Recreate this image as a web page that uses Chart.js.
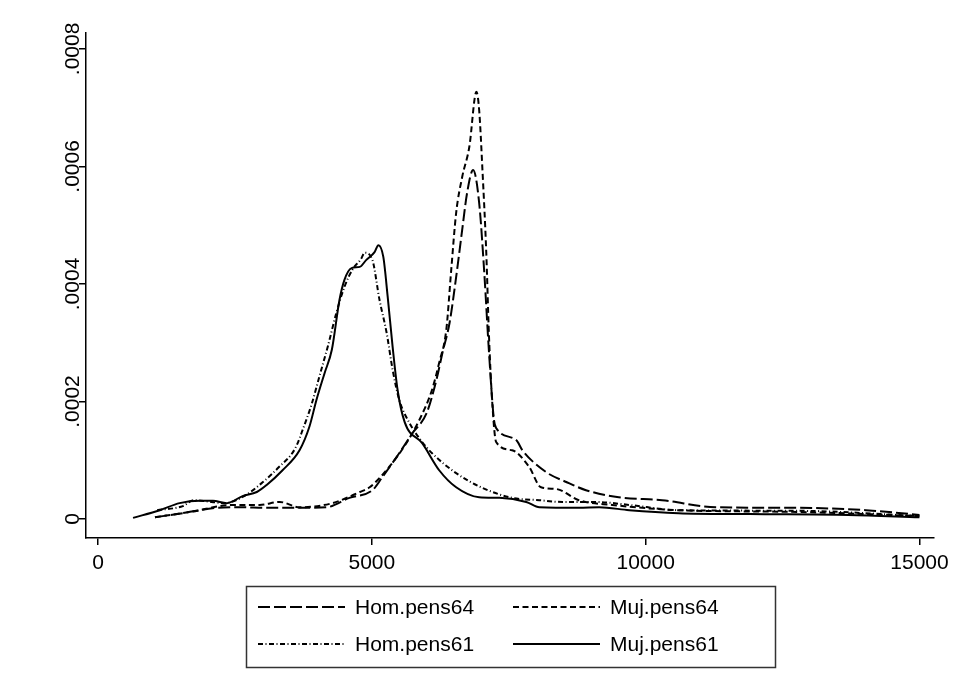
<!DOCTYPE html>
<html>
<head>
<meta charset="utf-8">
<script src="https://cdn.jsdelivr.net/npm/chart.js@4.4.1/dist/chart.umd.min.js"></script>
<style>
  html, body { margin: 0; padding: 0; background: #fff; }
  canvas { display: block; }
</style>
</head>
<body>
<canvas id="main" width="955" height="691"></canvas>
<script>
// kernel density curves, x = pension amount, y = density
const homPens64X = [1040, 1550, 2170, 2590, 3080, 3680, 4170, 4590, 5010, 5190, 5500, 5740, 6000, 6180, 6290, 6420, 6540, 6650, 6740, 6850, 6960, 7050, 7140, 7230, 7270, 7640, 7750, 8180, 8550, 8910, 9510, 10300, 11280, 12790, 14020, 15000];
const homPens64Y = [0.000003, 0.000010, 0.000019, 0.000020, 0.000019, 0.000019, 0.000020, 0.000036, 0.000049, 0.000071, 0.000112, 0.000146, 0.000180, 0.000237, 0.000283, 0.000334, 0.000412, 0.000492, 0.000555, 0.000594, 0.000538, 0.000424, 0.000283, 0.000169, 0.000155, 0.000134, 0.000117, 0.000080, 0.000063, 0.000049, 0.000037, 0.000032, 0.000020, 0.000019, 0.000015, 0.000007];

const mujPens64X = [1040, 1680, 2460, 2950, 3320, 3680, 4280, 4780, 4960, 5320, 5630, 5870, 6100, 6230, 6360, 6450, 6540, 6650, 6780, 6910, 6960, 7020, 7090, 7140, 7200, 7270, 7560, 7870, 8090, 8370, 8780, 9390, 10610, 12790, 15000];
const mujPens64Y = [0.000003, 0.000012, 0.000024, 0.000024, 0.000029, 0.000020, 0.000027, 0.000046, 0.000054, 0.000089, 0.000129, 0.000169, 0.000220, 0.000266, 0.000322, 0.000424, 0.000521, 0.000582, 0.000633, 0.000727, 0.000696, 0.000594, 0.000453, 0.000310, 0.000197, 0.000131, 0.000117, 0.000089, 0.000054, 0.000051, 0.000032, 0.000024, 0.000015, 0.000012, 0.000005];

const homPens61X = [1080, 1550, 1750, 2000, 2300, 2650, 3000, 3300, 3600, 3750, 3900, 4050, 4200, 4350, 4500, 4650, 4800, 4870, 5010, 5140, 5270, 5380, 5500, 5690, 5920, 6100, 6540, 7020, 7560, 8060, 8480, 9090, 9700, 10600, 12800, 15000];
const homPens61Y = [0.000015, 0.000022, 0.000032, 0.000030, 0.000027, 0.000038, 0.000062, 0.000088, 0.000120, 0.000155, 0.000195, 0.000245, 0.000295, 0.000350, 0.000395, 0.000425, 0.000442, 0.000453, 0.000441, 0.000373, 0.000317, 0.000254, 0.000203, 0.000163, 0.000131, 0.000112, 0.000078, 0.000053, 0.000036, 0.000032, 0.000029, 0.000029, 0.000024, 0.000015, 0.000014, 0.000005];

const mujPens61X = [640, 1130, 1490, 1860, 2100, 2350, 2640, 2900, 3080, 3370, 3680, 3860, 3990, 4140, 4270, 4410, 4500, 4630, 4780, 4900, 5050, 5120, 5210, 5290, 5380, 5470, 5600, 5920, 6230, 6540, 6960, 7330, 7820, 8060, 8780, 9150, 9700, 10600, 11900, 13700, 15000];
const mujPens61Y = [0.000002, 0.000015, 0.000027, 0.000031, 0.000031, 0.000027, 0.000039, 0.000046, 0.000058, 0.000083, 0.000117, 0.000157, 0.000203, 0.000249, 0.000288, 0.000373, 0.000407, 0.000427, 0.000429, 0.000441, 0.000454, 0.000466, 0.000446, 0.000378, 0.000293, 0.000220, 0.000165, 0.000129, 0.000083, 0.000054, 0.000037, 0.000036, 0.000029, 0.000020, 0.000019, 0.000020, 0.000015, 0.000010, 0.0000085, 0.000007, 0.000003];

const seriesNames = ['Hom.pens64', 'Muj.pens64', 'Hom.pens61', 'Muj.pens61'];

const xTicks = [0, 5000, 10000, 15000];
const yTicks = [0, 0.0002, 0.0004, 0.0006, 0.0008];
const yTickLabels = ['0', '.0002', '.0004', '.0006', '.0008'];

const FONT = 'Liberation Sans';

function toPoints(xs, ys) {
    return xs.map((x, i) => ({ x: x, y: ys[i] }));
}

function lineSet(label, xs, ys, dash) {
    return {
        label: label,
        data: toPoints(xs, ys),
        borderColor: '#000',
        borderWidth: 2,
        borderDash: dash,
        pointRadius: 0,
        cubicInterpolationMode: 'monotone',  // smooth but keeps the sharp peaks
        fill: false
    };
}

// y labels are rotated like in Stata, so they are drawn by hand
const yLabelPlugin = {
    id: 'yLabels',
    afterDraw(chart) {
        const ctx = chart.ctx;
        const y = chart.scales.y;
        ctx.save();
        ctx.fillStyle = '#000';
        ctx.font = '21px "' + FONT + '"';
        ctx.textAlign = 'center';
        ctx.textBaseline = 'alphabetic';
        yTicks.forEach((v, i) => {
            ctx.save();
            ctx.translate(79, y.getPixelForValue(v));
            ctx.rotate(-Math.PI / 2);
            ctx.fillText(yTickLabels[i], 0, 0);
            ctx.restore();
        });
        ctx.restore();
    }
};

// boxed legend, two columns
const legendPlugin = {
    id: 'boxLegend',
    afterDraw(chart) {
        const ctx = chart.ctx;
        const sets = chart.data.datasets;
        ctx.save();
        ctx.strokeStyle = '#333';
        ctx.lineWidth = 1.5;
        ctx.strokeRect(246.5, 586.5, 529, 81);
        ctx.font = '21px "' + FONT + '"';
        ctx.fillStyle = '#000';
        ctx.textBaseline = 'middle';
        ctx.textAlign = 'left';
        const cols = [258, 513];
        const rows = [607, 644];
        sets.forEach((ds, i) => {
            const cx = cols[i % 2];
            const cy = rows[Math.floor(i / 2)];
            ctx.beginPath();
            ctx.strokeStyle = '#000';
            ctx.lineWidth = 2;
            ctx.setLineDash(ds.borderDash || []);
            ctx.moveTo(cx, cy);
            ctx.lineTo(cx + 87, cy);
            ctx.stroke();
            ctx.setLineDash([]);
            ctx.fillText(ds.label, cx + 97, cy + 1);
        });
        ctx.restore();
    }
};

window.onload = function() {
    var main = document.getElementById('main').getContext('2d');
    var myChart = new Chart(main, {
        type: 'line',
        data: {
            datasets: [
                lineSet(seriesNames[0], homPens64X, homPens64Y, [12, 4]),
                lineSet(seriesNames[1], mujPens64X, mujPens64Y, [6, 3.5]),
                lineSet(seriesNames[2], homPens61X, homPens61Y, [5, 2.5, 1, 2.5]),
                lineSet(seriesNames[3], mujPens61X, mujPens61Y, [])
            ]
        },
        options: {
            responsive: false,
            animation: false,
            layout: { padding: { left: 0, right: 20, top: 33, bottom: 0 } },
            plugins: {
                legend: { display: false },
                tooltip: { enabled: false }
            },
            scales: {
                x: {
                    type: 'linear',
                    min: -219,
                    max: 15254,
                    afterBuildTicks: s => { s.ticks = xTicks.map(v => ({ value: v })); },
                    afterFit: s => { s.height = 153; },
                    ticks: {
                        color: '#000',
                        font: { family: FONT, size: 21 },
                        padding: 6,
                        maxRotation: 0,
                        autoSkip: false,
                        callback: v => String(v)
                    },
                    grid: { drawOnChartArea: false, drawTicks: true, tickLength: 7, color: '#000', lineWidth: 1.5 },
                    border: { color: '#000', width: 1.5 }
                },
                y: {
                    type: 'linear',
                    min: -0.0000323,
                    max: 0.000827,
                    afterBuildTicks: s => { s.ticks = yTicks.map(v => ({ value: v })); },
                    afterFit: s => { s.width = 86; },
                    ticks: { display: false },
                    grid: { drawOnChartArea: false, drawTicks: true, tickLength: 7, color: '#000', lineWidth: 1.5 },
                    border: { color: '#000', width: 1.5 }
                }
            }
        },
        plugins: [yLabelPlugin, legendPlugin]
    });
};
</script>
</body>
</html>
